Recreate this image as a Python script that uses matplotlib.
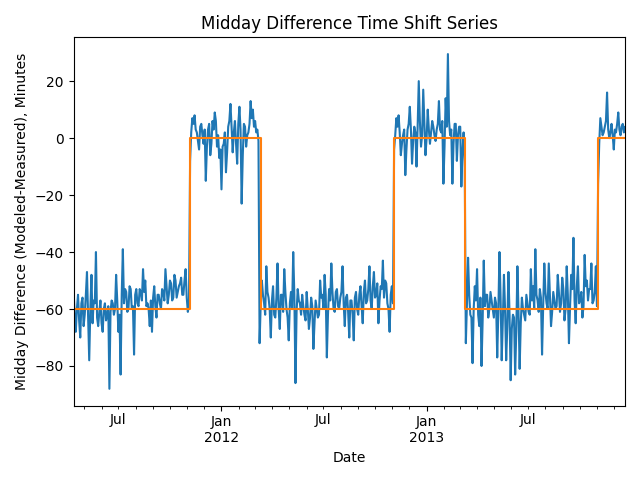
import matplotlib
matplotlib.use("Agg")
import matplotlib.pyplot as plt
import matplotlib.dates as mdates
from matplotlib.ticker import FuncFormatter
import pandas as pd

# blue series: one reading every 2 days starting 2011-04-12.
# "peak" lists hold the days 0, 4, 8, ... and "mid" lists the days between
start_date = "2011-04-12"
step = "2D"

# standard time, spring-autumn 2011
seg_a = [-53, -68, -55, -70, -56, -62, -47, -78, -48, -57, -40, -66, -57,
         -68, -58, -62, -88, -57, -62, -48, -68, -83, -39, -53, -61, -52,
         -60, -76, -53, -59, -54, -46, -50, -58, -66, -68, -52, -63, -55,
         -60, -54, -46, -58, -50, -57, -48, -56, -52, -49, -55, -46, -61]
seg_a_mid = [-62, -60, -64, -58, -66, -55, -63, -60, -65, -58, -63, -61, -65,
             -60, -64, -59, -61, -58, -60, -57, -62, -55, -58, -54, -60, -53,
             -59, -55, -58, -53, -57, -54, -59, -60, -57, -56, -59, -55, -58,
             -53, -57, -52, -55, -51, -56, -50, -54, -51, -55, -50, -56, -58]
# winter 2011-12
seg_b = [-8, 7, 8, 2, -4, 5, -2, -15, 3, -6, 6, 9, -3, -7, -18, -2, -12,
         4, 12, -5, 6, -9, 11, -23, 5, -3, 2, 13, 10, 6, 3]
seg_b_mid = [2, 5, 3, -1, 4, 1, 3, -3, 5, -2, 3, 6, 1, -4, -3, 2, -5,
             6, 4, 2, -2, 5, 3, -6, 4, 1, 5, 7, 4, 2, -1]
# 2012
seg_c = [-72, -50, -58, -45, -56, -70, -52, -63, -44, -67, -55, -46, -60,
         -71, -54, -40, -86, -53, -58, -55, -62, -54, -67, -56, -74, -57,
         -63, -50, -55, -48, -77, -53, -44, -60, -54, -59, -56, -45, -66,
         -55, -70, -57, -71, -54, -62, -52, -65, -50, -57, -45, -60, -47,
         -55, -65, -52, -43, -50, -58, -68, -52]
seg_c_mid = [-58, -55, -62, -54, -60, -57, -62, -56, -60, -55, -61, -54, -63,
             -58, -60, -55, -61, -57, -62, -59, -64, -60, -63, -59, -65, -60,
             -62, -56, -60, -55, -62, -57, -54, -61, -53, -60, -54, -58, -56,
             -61, -57, -62, -56, -60, -55, -59, -54, -58, -53, -57, -52, -56,
             -51, -57, -53, -56, -51, -60, -55, -58]
# winter 2012-13
seg_d = [-4, 7, 8, -6, 1, -13, 3, 11, -9, 4, -10, 20, -3, 17, -6, 10, -2,
         6, 1, 3, 13, 2, -16, 14, 29.5, 1, -16, 5, -8, 4, -17, 2]
seg_d_mid = [1, 4, 2, -2, 3, -4, 5, 3, -1, 2, 4, 6, 1, 5, 0, 3, 2,
             4, -1, 5, 3, 6, -3, 4, 6, 3, -2, 5, 1, 4, -5, -8]
# 2013
seg_e = [-72, -42, -62, -79, -52, -46, -66, -80, -43, -55, -63, -54, -60,
         -56, -77, -40, -78, -48, -78, -47, -85, -62, -83, -45, -81, -56,
         -62, -55, -61, -46, -52, -39, -57, -53, -76, -44, -58, -44, -66,
         -54, -60, -48, -61, -49, -64, -45, -72, -48, -35, -65, -45, -57,
         -63, -41, -50, -53, -44, -57, -45]
seg_e_mid = [-58, -55, -63, -60, -57, -62, -56, -64, -59, -55, -60, -57, -63,
             -58, -61, -56, -64, -60, -66, -62, -67, -63, -68, -61, -65, -60,
             -64, -58, -62, -57, -60, -55, -61, -56, -59, -54, -60, -55, -61,
             -57, -59, -54, -58, -53, -60, -55, -59, -53, -57, -52, -58, -54,
             -59, -52, -57, -53, -58, -54, -59]
# winter 2013
seg_f = [-16, 7, 1, 4, 16, 0, 5, -4, 2, 9, 1, 5, 4]
seg_f_mid = [-2, 4, 2, 6, 3, 2, 1, 3, 5, 3, 4, 2, 3]

peaks = seg_a + seg_b + seg_c + seg_d + seg_e + seg_f
mids = seg_a_mid + seg_b_mid + seg_c_mid + seg_d_mid + seg_e_mid + seg_f_mid
diff_values = [v for pair in zip(peaks, mids) for v in pair]

# time shift (step series)
shift_dates = ["2011-04-12", "2011-11-06", "2012-03-11", "2012-11-04",
               "2013-03-10", "2013-11-03", "2013-12-21"]
shift_values = [-60, 0, -60, 0, -60, 0, 0]

dates = pd.date_range(start_date, periods=len(diff_values), freq=step)
sdates = pd.to_datetime(shift_dates)

fig, ax = plt.subplots(figsize=(6.4, 4.8), dpi=100)
ax.plot(dates, diff_values, color="#1f77b4")
ax.plot(sdates, shift_values, color="#ff7f0e", drawstyle="steps-post")

ax.set_xlim(sdates[0], sdates[-1])

ax.xaxis.set_major_locator(mdates.YearLocator())
ax.xaxis.set_minor_locator(mdates.MonthLocator())
ax.xaxis.set_major_formatter(FuncFormatter(
    lambda v, p: mdates.num2date(v).strftime("%b\n%Y")))
ax.xaxis.set_minor_formatter(FuncFormatter(
    lambda v, p: "Jul" if mdates.num2date(v).month == 7 else ""))

ax.set_title("Midday Difference Time Shift Series")
ax.set_xlabel("Date")
ax.set_ylabel("Midday Difference (Modeled-Measured), Minutes")

plt.tight_layout()
plt.savefig("out.png")
